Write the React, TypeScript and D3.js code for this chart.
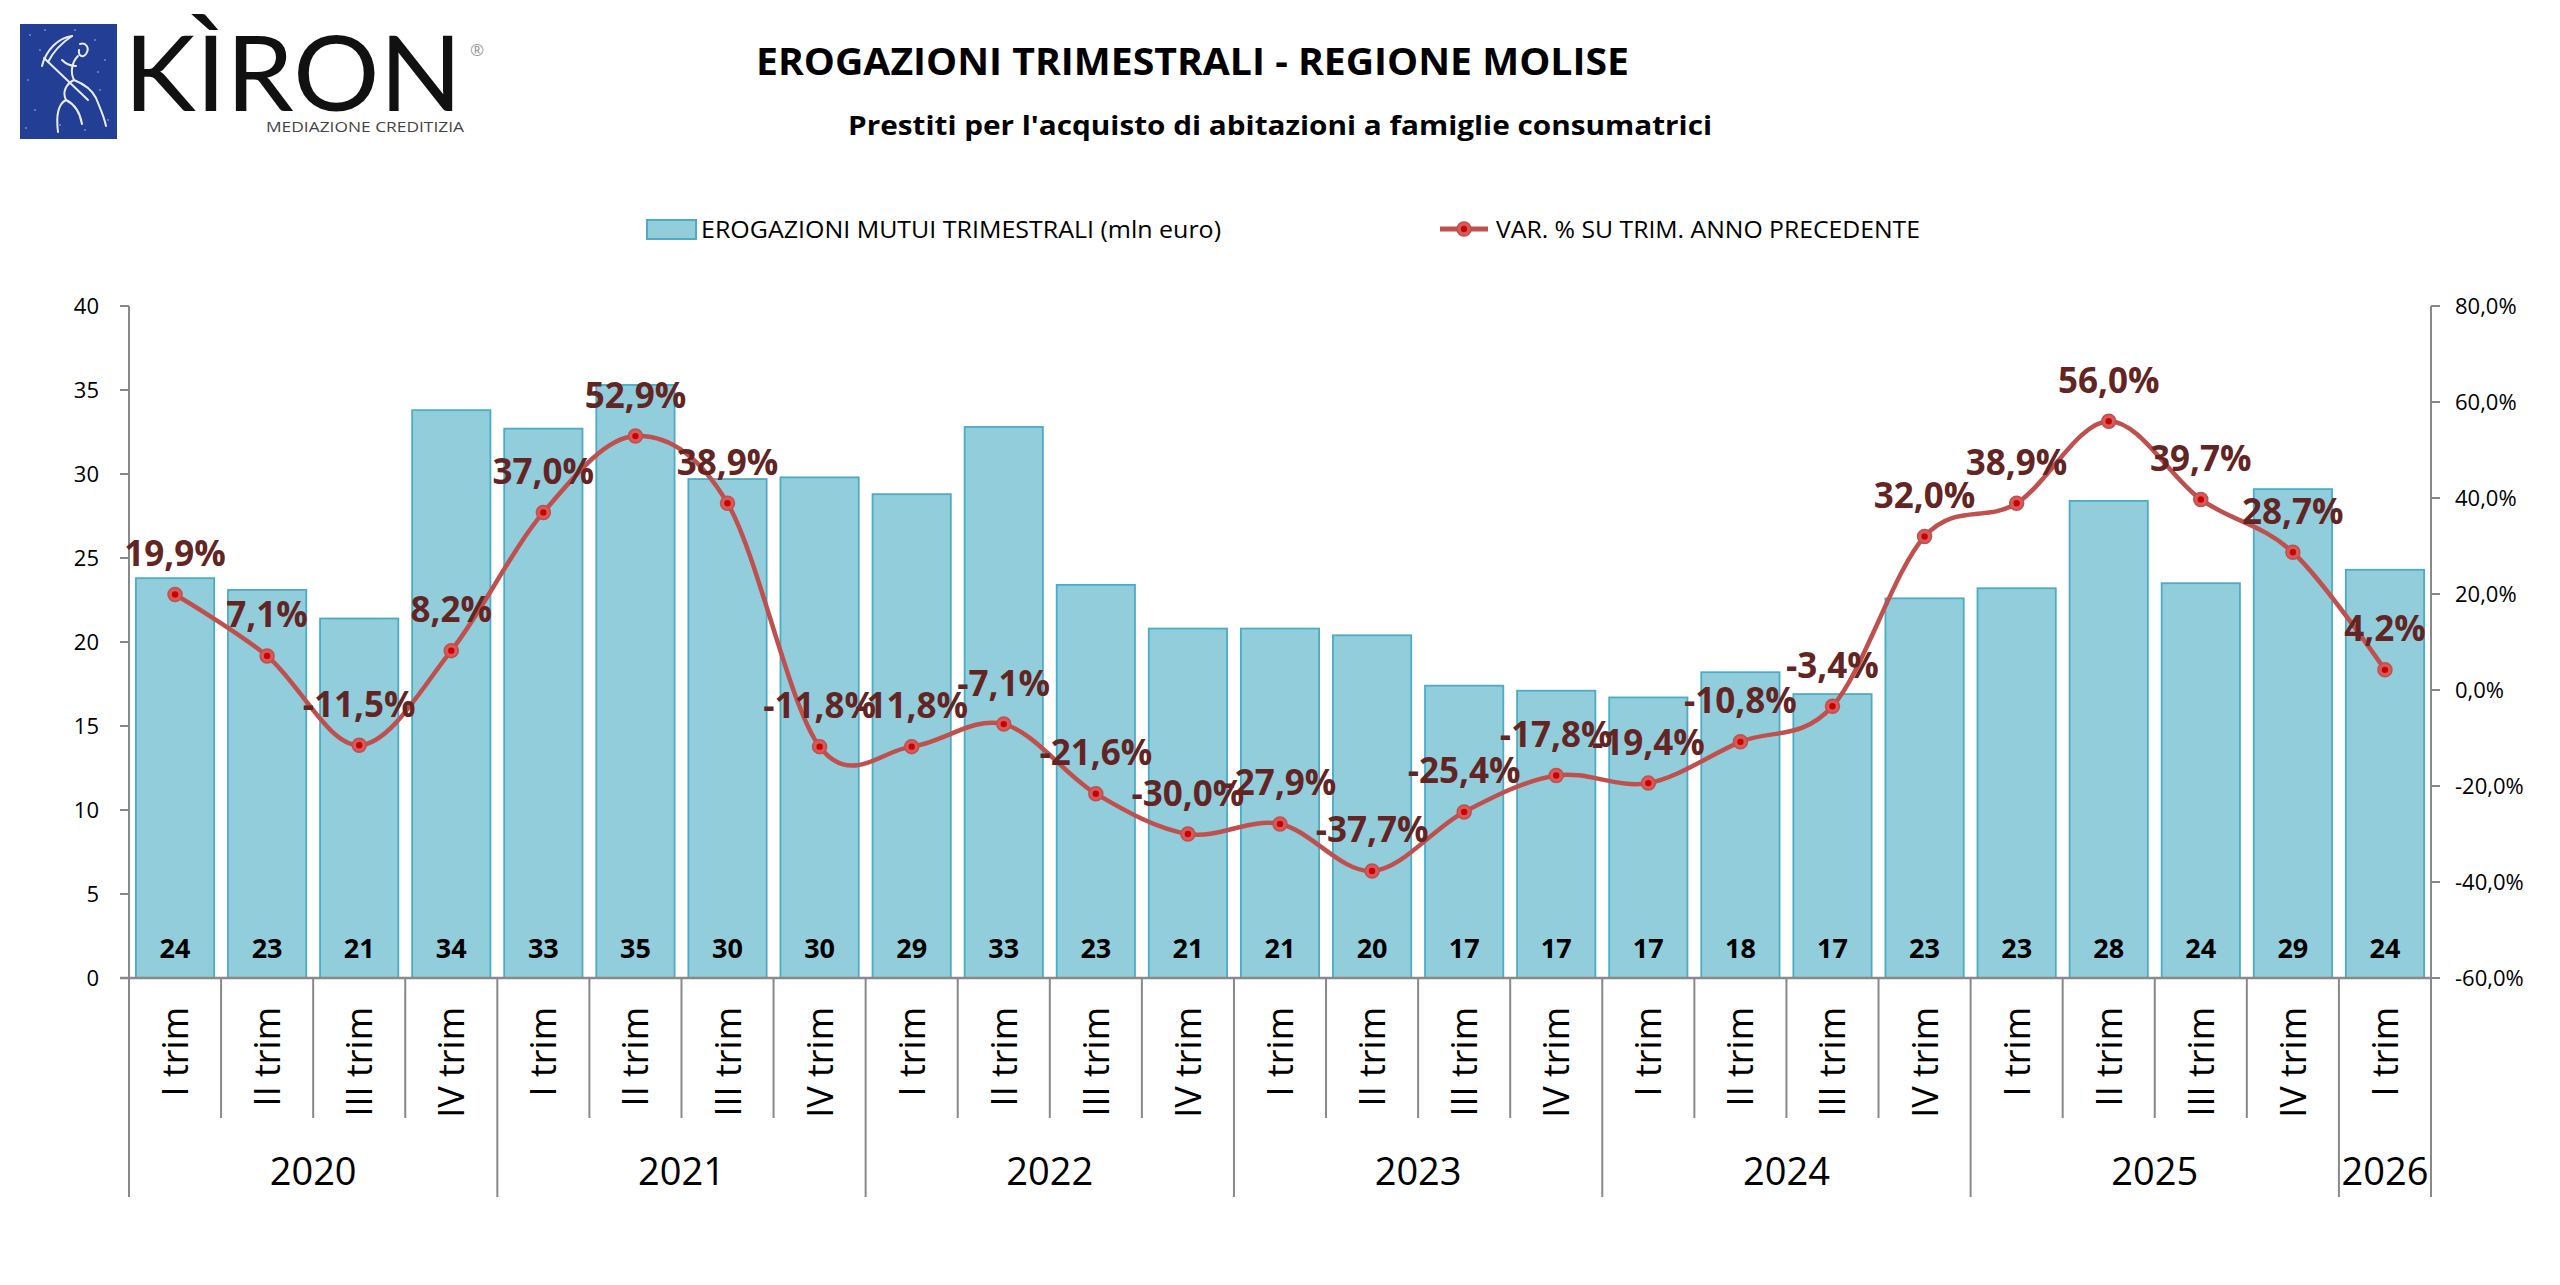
import React from "react";
import * as d3 from "d3";

// ---------- DATA ----------
const quarters = [
  "I trim", "II trim", "III trim", "IV trim",
  "I trim", "II trim", "III trim", "IV trim",
  "I trim", "II trim", "III trim", "IV trim",
  "I trim", "II trim", "III trim", "IV trim",
  "I trim", "II trim", "III trim", "IV trim",
  "I trim", "II trim", "III trim", "IV trim",
  "I trim",
];
const yearLabels = ["2020", "2021", "2022", "2023", "2024", "2025", "2026"];
const yearSpans = [4, 4, 4, 4, 4, 4, 1];
const erogazioni = [
  23.8, 23.1, 21.4, 33.8, 32.7, 35.3, 29.7, 29.8, 28.8, 32.8, 23.4, 20.8, 20.8,
  20.4, 17.4, 17.1, 16.7, 18.2, 16.9, 22.6, 23.2, 28.4, 23.5, 29.1, 24.3,
];
const variazioni = [
  19.9, 7.1, -11.5, 8.2, 37.0, 52.9, 38.9, -11.8, -11.8, -7.1, -21.6, -30.0,
  -27.9, -37.7, -25.4, -17.8, -19.4, -10.8, -3.4, 32.0, 38.9, 56.0, 39.7, 28.7,
  4.2,
];
const leftTicks = [0, 5, 10, 15, 20, 25, 30, 35, 40];
const rightTicks = [-60, -40, -20, 0, 20, 40, 60, 80];

const TITLE = "EROGAZIONI TRIMESTRALI - REGIONE MOLISE";
const SUBTITLE = "Prestiti per l'acquisto di abitazioni a famiglie consumatrici";
const LEGEND_BAR = "EROGAZIONI MUTUI TRIMESTRALI (mln euro)";
const LEGEND_LINE = "VAR. % SU TRIM. ANNO PRECEDENTE";

// ---------- LAYOUT ----------
const W = 2560;
const H = 1285;
const X0 = 129;
const X1 = 2431;
const YT = 306;
const YB = 978;
const Q_BOTTOM = 1118;
const Y_BOTTOM = 1197;

const FONT = "'Open Sans', 'Noto Sans', sans-serif";
const AXIS = "#898989";
const BAR_FILL = "#92CDDC";
const BAR_STROKE = "#4BACC6";
const LINE = "#C0504D";
const LABEL = "#632523";

const fmtPct = (v: number) => v.toFixed(1).replace(".", ",") + "%";

export default function App() {
  const idx = d3.range(erogazioni.length);
  const x = d3
    .scaleBand<number>()
    .domain(idx)
    .range([X0, X1])
    .paddingInner(0.15)
    .paddingOuter(0.075);
  const step = (X1 - X0) / erogazioni.length;
  const cx = (i: number) => (x(i) as number) + x.bandwidth() / 2;
  const yL = d3.scaleLinear().domain([0, 40]).range([YB, YT]);
  const yR = d3.scaleLinear().domain([-60, 80]).range([YB, YT]);

  const linePath =
    d3
      .line<number>()
      .x((_, i) => cx(i))
      .y((d) => yR(d))
      .curve(d3.curveCatmullRom.alpha(0))(variazioni) || "";

  // year boundaries
  const yearStarts: number[] = [];
  let acc = 0;
  yearSpans.forEach((s) => {
    yearStarts.push(acc);
    acc += s;
  });

  return (
    <div style={{ position: "fixed", left: 0, top: 0, width: W, height: H, background: "#fff" }}>
      <svg width={W} height={H} viewBox={`0 0 ${W} ${H}`} style={{ display: "block" }}>
        <rect width={W} height={H} fill="#fff" />

        {/* ---------- LOGO ---------- */}
        <g>
          <rect x={20} y={24} width={97} height={115} fill="#233F95" />
          {[
            [30, 35], [45, 30], [95, 40], [105, 60], [28, 80], [35, 110], [100, 90],
            [108, 120], [60, 125], [85, 130], [40, 50], [98, 72], [26, 128], [75, 30],
          ].map(([px, py], k) => (
            <circle key={k} cx={px} cy={py} r={1.1} fill="#6F86C8" />
          ))}
          <g fill="none" stroke="#E8ECF6" strokeWidth={2} strokeLinecap="round" strokeLinejoin="round">
            <path d="M72,36 C58,38 46,50 42,66" />
            <path d="M72,36 C60,44 52,54 48,62" />
            <path d="M44,58 L88,100" />
            <path d="M80,44 C86,42 90,48 86,54 C83,58 78,56 79,50" />
            <path d="M78,56 C72,62 70,72 74,80 C66,84 62,92 66,100" />
            <path d="M74,80 C84,84 92,90 96,98 C100,108 104,116 106,126" />
            <path d="M66,100 C58,104 56,116 58,132" />
            <path d="M66,100 C74,104 80,112 82,124" />
            <path d="M62,60 C66,64 70,66 76,66" />
          </g>
          <text
            x={124}
            y={111}
            fontFamily="Lato, 'Open Sans', sans-serif"
            fontSize={104}
            fontWeight={400}
            fill="#111"
            textLength={338}
            lengthAdjust="spacingAndGlyphs"
          >
            KÌRON
          </text>
          <text x={470} y={56} fontFamily={FONT} fontSize={17} fill="#999">
            ®
          </text>
          <text
            x={266}
            y={132}
            fontFamily={FONT}
            fontSize={15}
            fill="#444"
            textLength={198}
            lengthAdjust="spacingAndGlyphs"
          >
            MEDIAZIONE CREDITIZIA
          </text>
        </g>

        {/* ---------- TITLES ---------- */}
        <text
          x={756}
          y={75}
          fontFamily={FONT}
          fontWeight={700}
          fontSize={38}
          fill="#000"
          textLength={873}
          lengthAdjust="spacingAndGlyphs"
        >
          {TITLE}
        </text>
        <text
          x={848}
          y={135}
          fontFamily={FONT}
          fontWeight={700}
          fontSize={27}
          fill="#000"
          textLength={864}
          lengthAdjust="spacingAndGlyphs"
        >
          {SUBTITLE}
        </text>

        {/* ---------- LEGEND ---------- */}
        <rect x={647} y={220} width={49} height={19} fill={BAR_FILL} stroke={BAR_STROKE} strokeWidth={2} />
        <text
          x={701}
          y={238}
          fontFamily={FONT}
          fontSize={24}
          fill="#000"
          textLength={520}
          lengthAdjust="spacingAndGlyphs"
        >
          {LEGEND_BAR}
        </text>
        <line x1={1440} x2={1488} y1={229} y2={229} stroke={LINE} strokeWidth={5} />
        <circle cx={1464} cy={229} r={7} fill="#D65A5A" stroke={LINE} strokeWidth={1.5} />
        <circle cx={1464} cy={229} r={3.2} fill="#CC0000" />
        <text
          x={1496}
          y={238}
          fontFamily={FONT}
          fontSize={24}
          fill="#000"
          textLength={424}
          lengthAdjust="spacingAndGlyphs"
        >
          {LEGEND_LINE}
        </text>

        {/* ---------- BARS ---------- */}
        {erogazioni.map((v, i) => (
          <rect
            key={`b${i}`}
            x={x(i) as number}
            y={yL(v)}
            width={x.bandwidth()}
            height={YB - yL(v)}
            fill={BAR_FILL}
            stroke={BAR_STROKE}
            strokeWidth={1.8}
          />
        ))}
        {erogazioni.map((v, i) => (
          <text
            key={`bl${i}`}
            x={cx(i)}
            y={958}
            textAnchor="middle"
            fontFamily={FONT}
            fontWeight={700}
            fontSize={27}
            fill="#000"
          >
            {Math.round(v)}
          </text>
        ))}

        {/* ---------- AXES ---------- */}
        <line x1={X0} x2={X0} y1={YT} y2={Y_BOTTOM} stroke={AXIS} strokeWidth={2} />
        <line x1={X1} x2={X1} y1={YT} y2={Y_BOTTOM} stroke={AXIS} strokeWidth={2} />
        {leftTicks.map((t) => (
          <g key={`lt${t}`}>
            <line x1={X0 - 9} x2={X0} y1={yL(t)} y2={yL(t)} stroke={AXIS} strokeWidth={2} />
            <text
              x={99}
              y={yL(t) + 8}
              textAnchor="end"
              fontFamily={FONT}
              fontSize={22}
              fill="#000"
            >
              {t}
            </text>
          </g>
        ))}
        {rightTicks.map((t) => (
          <g key={`rt${t}`}>
            <line x1={X1} x2={X1 + 9} y1={yR(t)} y2={yR(t)} stroke={AXIS} strokeWidth={2} />
            <text x={2455} y={yR(t) + 8} fontFamily={FONT} fontSize={22} fill="#000">
              {fmtPct(t)}
            </text>
          </g>
        ))}
        <line x1={X0 - 9} x2={X1} y1={YB} y2={YB} stroke={AXIS} strokeWidth={2.5} />

        {/* category separators */}
        {d3.range(1, erogazioni.length).map((i) => {
          const isYear = yearStarts.includes(i);
          return (
            <line
              key={`sep${i}`}
              x1={X0 + i * step}
              x2={X0 + i * step}
              y1={YB}
              y2={isYear ? Y_BOTTOM : Q_BOTTOM}
              stroke={AXIS}
              strokeWidth={2}
            />
          );
        })}

        {/* quarter labels */}
        {quarters.map((q, i) => (
          <text
            key={`q${i}`}
            transform={`translate(${cx(i) + 13},1007) rotate(-90)`}
            textAnchor="end"
            fontFamily={FONT}
            fontSize={36}
            fill="#000"
          >
            {q}
          </text>
        ))}

        {/* year labels */}
        {yearLabels.map((yl, k) => {
          const s = yearStarts[k];
          const mid = X0 + (s + yearSpans[k] / 2) * step;
          return (
            <text
              key={`y${yl}`}
              x={mid}
              y={1185}
              textAnchor="middle"
              fontFamily={FONT}
              fontSize={38}
              fill="#000"
            >
              {yl}
            </text>
          );
        })}

        {/* ---------- LINE ---------- */}
        <path d={linePath} fill="none" stroke={LINE} strokeWidth={4.5} strokeLinejoin="round" />
        {variazioni.map((v, i) => (
          <g key={`m${i}`}>
            <circle cx={cx(i)} cy={yR(v)} r={7} fill="#D65A5A" stroke={LINE} strokeWidth={1.5} />
            <circle cx={cx(i)} cy={yR(v)} r={3.2} fill="#CC0000" />
          </g>
        ))}
        {variazioni.map((v, i) => (
          <text
            key={`vl${i}`}
            x={cx(i)}
            y={yR(v) - 28.5}
            textAnchor="middle"
            fontFamily={FONT}
            fontWeight={700}
            fontSize={35}
            fill={LABEL}
          >
            {fmtPct(v)}
          </text>
        ))}
      </svg>
    </div>
  );
}
